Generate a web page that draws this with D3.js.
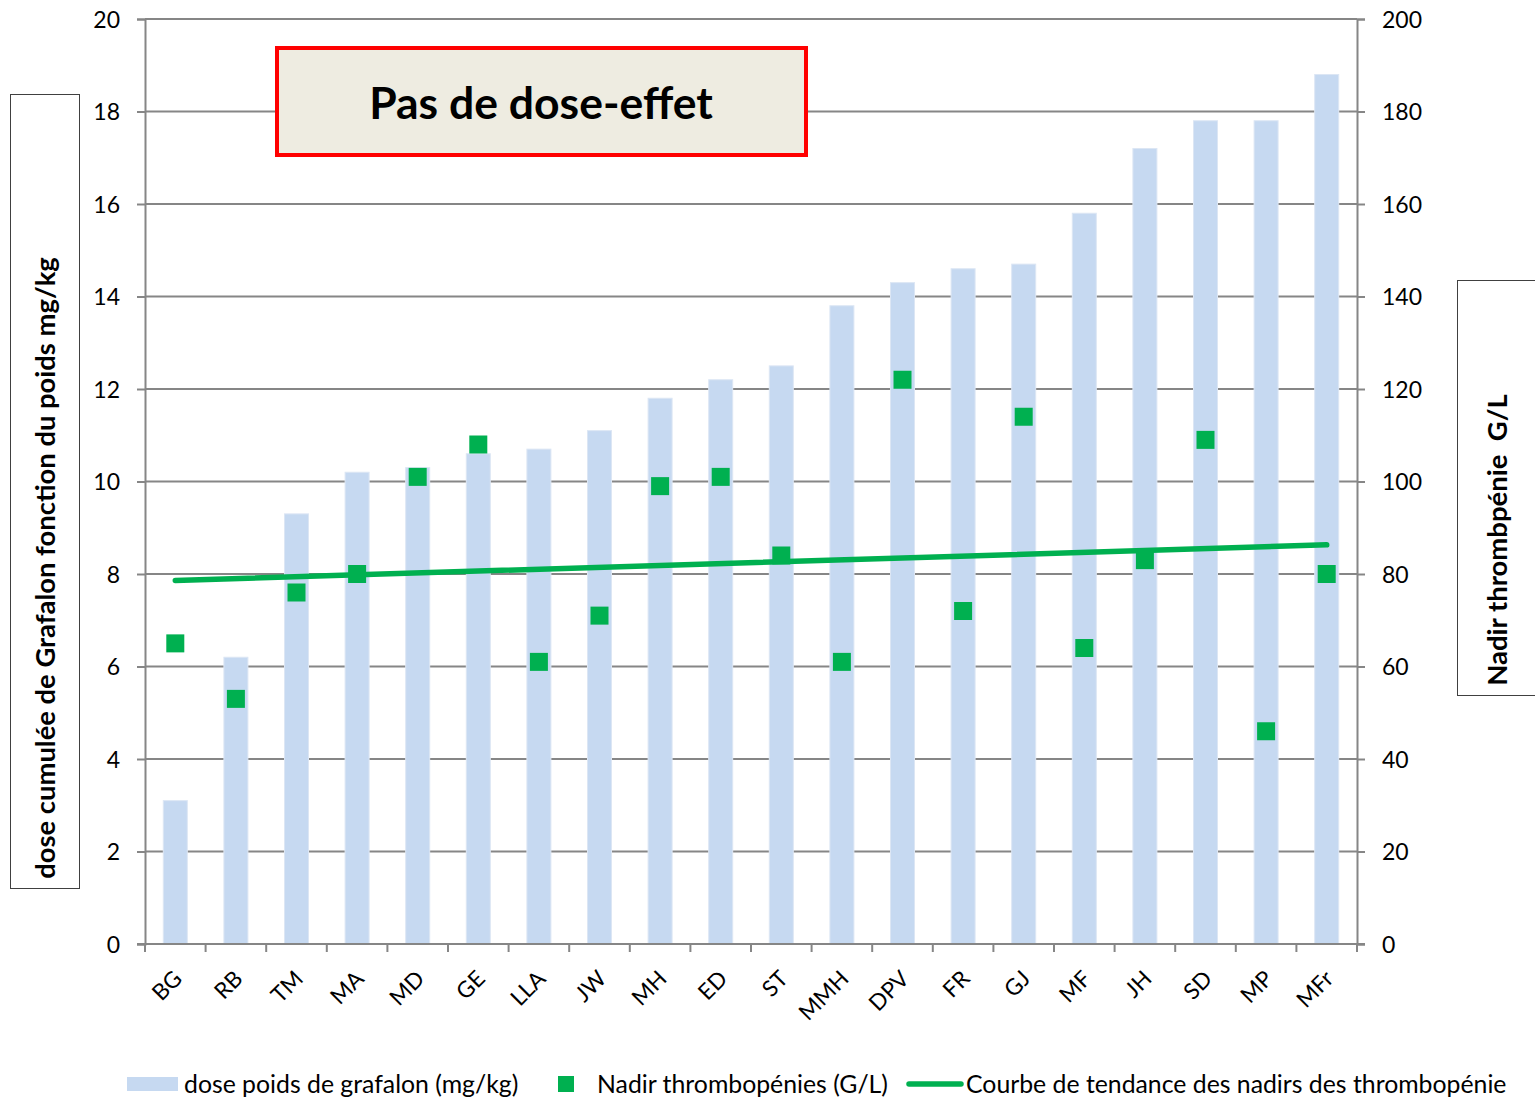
<!DOCTYPE html>
<html>
<head>
<meta charset="utf-8">
<script src="https://cdn.jsdelivr.net/npm/d3@7"></script>
<style>
  body { margin: 0; background: #fff; }
  text { font-family: Lato, "Open Sans", sans-serif; fill: #000; }
</style>
</head>
<body>
<svg id="chart" width="1535" height="1099"></svg>
<script>
// patients, sorted by dose
const patients = ["BG", "RB", "TM", "MA", "MD", "GE", "LLA", "JW", "MH", "ED",
  "ST", "MMH", "DPV", "FR", "GJ", "MF", "JH", "SD", "MP", "MFr"];
// cumulative dose (mg/kg) - left axis
const doses = [3.1, 6.2, 9.3, 10.2, 10.3, 10.6, 10.7, 11.1, 11.8, 12.2,
  12.5, 13.8, 14.3, 14.6, 14.7, 15.8, 17.2, 17.8, 17.8, 18.8];
// platelet nadir (G/L) - right axis
const nadirs = [65, 53, 76, 80, 101, 108, 61, 71, 99, 101,
  84, 61, 122, 72, 114, 64, 83, 109, 46, 80];
// trend line, first and last patient
const trendEnds = [78.6, 86.3];
const leftTicks = [0, 2, 4, 6, 8, 10, 12, 14, 16, 18, 20];
const rightTicks = [0, 20, 40, 60, 80, 100, 120, 140, 160, 180, 200];

const barColor = "#c6d9f1";
const green = "#00b050";
const gridColor = "#868686";

const svg = d3.select("#chart");
const plotLeft = 145, plotRight = 1357, plotTop = 19, plotBottom = 944;

const x = d3.scaleBand().domain(patients).range([plotLeft, plotRight])
  .paddingInner(0.604).paddingOuter(0.302);
const y = d3.scaleLinear().domain([0, 20]).range([plotBottom, plotTop]);
const y2 = d3.scaleLinear().domain([0, 200]).range([plotBottom, plotTop]);

// gridlines
svg.append("g")
  .selectAll("line")
  .data(leftTicks.filter(d => d > 0))
  .join("line")
  .attr("x1", plotLeft).attr("x2", plotRight)
  .attr("y1", d => y(d)).attr("y2", d => y(d))
  .attr("stroke", gridColor).attr("stroke-width", 2);

// bars
svg.append("g")
  .selectAll("rect")
  .data(patients)
  .join("rect")
  .attr("x", d => x(d))
  .attr("width", x.bandwidth())
  .attr("y", (d, i) => y(doses[i]))
  .attr("height", (d, i) => plotBottom - y(doses[i]))
  .attr("fill", barColor)
  .attr("stroke", "#dce6f4")
  .attr("stroke-width", 1);

// left axis
const axL = svg.append("g")
  .attr("transform", `translate(${plotLeft},0)`)
  .call(d3.axisLeft(y).tickValues(leftTicks).tickSize(8).tickPadding(17));
axL.select(".domain").attr("stroke", gridColor).attr("stroke-width", 2);
axL.selectAll(".tick line").attr("stroke", gridColor).attr("stroke-width", 2);
axL.selectAll(".tick text").style("font-size", "23px").attr("dy", "0.35em");

// right axis
const axR = svg.append("g")
  .attr("transform", `translate(${plotRight},0)`)
  .call(d3.axisRight(y2).tickValues(rightTicks).tickSize(8).tickPadding(17));
axR.select(".domain").attr("stroke", gridColor).attr("stroke-width", 2);
axR.selectAll(".tick line").attr("stroke", gridColor).attr("stroke-width", 2);
axR.selectAll(".tick text").style("font-size", "23px").attr("dy", "0.35em");

// bottom axis line + ticks between categories
svg.append("line")
  .attr("x1", plotLeft - 8).attr("x2", plotRight + 8)
  .attr("y1", plotBottom).attr("y2", plotBottom)
  .attr("stroke", gridColor).attr("stroke-width", 2);
svg.append("g")
  .selectAll("line")
  .data(d3.range(patients.length + 1))
  .join("line")
  .attr("x1", i => plotLeft + i * x.step())
  .attr("x2", i => plotLeft + i * x.step())
  .attr("y1", plotBottom).attr("y2", plotBottom + 8)
  .attr("stroke", gridColor).attr("stroke-width", 2);

// category labels
svg.append("g")
  .selectAll("text")
  .data(patients)
  .join("text")
  .attr("transform", d => `translate(${x(d) + x.bandwidth() / 2 - 3},${plotBottom + 25}) rotate(-45)`)
  .attr("text-anchor", "end")
  .attr("dy", "0.7em")
  .style("font-size", "22.5px")
  .text(d => d);

// trend line
const first = patients[0], last = patients[patients.length - 1];
svg.append("line")
  .attr("x1", x(first) + x.bandwidth() / 2)
  .attr("x2", x(last) + x.bandwidth() / 2)
  .attr("y1", y2(trendEnds[0]))
  .attr("y2", y2(trendEnds[1]))
  .attr("stroke", green).attr("stroke-width", 5.5)
  .attr("stroke-linecap", "round");

// nadir markers
const m = 18;
svg.append("g")
  .selectAll("rect")
  .data(patients)
  .join("rect")
  .attr("x", d => x(d) + x.bandwidth() / 2 - m / 2)
  .attr("y", (d, i) => y2(nadirs[i]) - m / 2)
  .attr("width", m).attr("height", m)
  .attr("fill", green);

// title box
svg.append("rect")
  .attr("x", 277).attr("y", 48).attr("width", 529).attr("height", 107)
  .attr("fill", "#eeece1").attr("stroke", "#ff0000").attr("stroke-width", 4);
svg.append("text")
  .attr("x", 541).attr("y", 103)
  .attr("text-anchor", "middle").attr("dy", "0.35em")
  .style("font-size", "44.5px").style("font-weight", "bold")
  .text("Pas de dose-effet");

// left axis title
svg.append("rect")
  .attr("x", 10.5).attr("y", 94.5).attr("width", 69).attr("height", 794)
  .attr("fill", "none").attr("stroke", "#404040").attr("stroke-width", 1);
svg.append("text")
  .attr("transform", "translate(45,568) rotate(-90)")
  .attr("text-anchor", "middle").attr("dy", "0.35em")
  .style("font-size", "27.4px").style("font-weight", "bold")
  .text("dose cumulée de Grafalon fonction du poids mg/kg");

// right axis title
svg.append("rect")
  .attr("x", 1457.5).attr("y", 280.5).attr("width", 90).attr("height", 415)
  .attr("fill", "none").attr("stroke", "#404040").attr("stroke-width", 1);
svg.append("text")
  .attr("transform", "translate(1497,540) rotate(-90)")
  .attr("text-anchor", "middle").attr("dy", "0.35em")
  .style("font-size", "27.5px").style("font-weight", "bold")
  .attr("xml:space", "preserve")
  .text("Nadir thrombpénie  G/L");

// legend
const ly = 1084;
const legend = svg.append("g");
legend.append("rect")
  .attr("x", 127).attr("y", ly - 7).attr("width", 51).attr("height", 14)
  .attr("fill", barColor);
legend.append("text")
  .attr("x", 184).attr("y", ly).attr("dy", "0.35em")
  .style("font-size", "24.8px")
  .text("dose poids de grafalon (mg/kg)");
legend.append("rect")
  .attr("x", 558).attr("y", ly - 8).attr("width", 16).attr("height", 16)
  .attr("fill", green);
legend.append("text")
  .attr("x", 597).attr("y", ly).attr("dy", "0.35em")
  .style("font-size", "24.8px")
  .text("Nadir thrombopénies (G/L)");
legend.append("line")
  .attr("x1", 909).attr("x2", 961).attr("y1", ly).attr("y2", ly)
  .attr("stroke", green).attr("stroke-width", 5.5).attr("stroke-linecap", "round");
legend.append("text")
  .attr("x", 966).attr("y", ly).attr("dy", "0.35em")
  .style("font-size", "24.8px")
  .text("Courbe de tendance des nadirs des thrombopénie");
</script>
</body>
</html>
